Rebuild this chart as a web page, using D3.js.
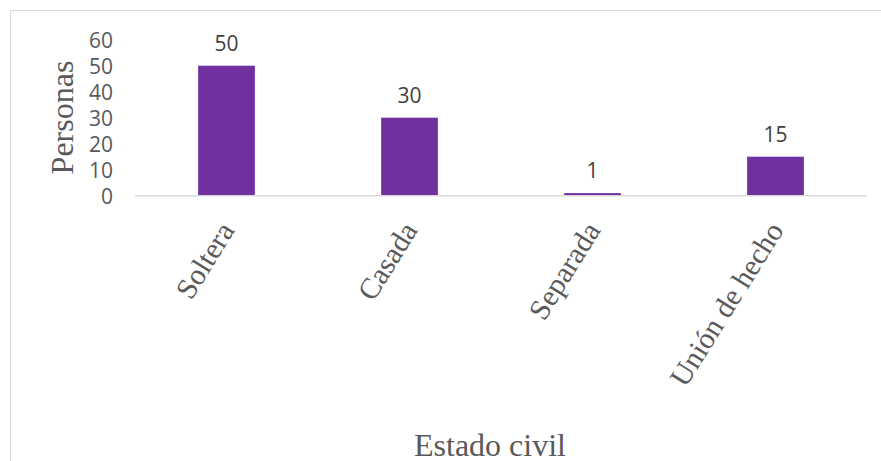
<!DOCTYPE html>
<html><head><meta charset="utf-8">
<script src="https://cdn.jsdelivr.net/npm/d3@7"></script>
<style>body{margin:0;background:#fff}svg{display:block}</style>
</head><body>
<svg id="c" width="881" height="461"></svg>
<script>
const categories = ["Soltera", "Casada", "Separada", "Unión de hecho"];
const values = [50, 30, 1, 15];
const yTicks = [0, 10, 20, 30, 40, 50, 60];
const yTitle = "Personas";
const xTitle = "Estado civil";

const svg = d3.select("#c");
// chart border
svg.append("rect").attr("x", 10.5).attr("y", 10.5).attr("width", 900).attr("height", 500)
  .attr("fill", "#fff").attr("stroke", "#d9d9d9").attr("stroke-width", 1);

const x = d3.scaleBand().domain(categories).range([135, 867]).paddingInner(0.69).paddingOuter(0.345);
const y = d3.scaleLinear().domain([0, 60]).range([195.7, 39.7]);

// bars
svg.selectAll("rect.bar").data(values).enter().append("rect")
  .attr("class", "bar")
  .attr("x", (d, i) => x(categories[i]))
  .attr("width", x.bandwidth())
  .attr("y", d => y(d))
  .attr("height", d => y(0) - y(d))
  .attr("fill", "#7030A0");

// x axis line
svg.append("line").attr("x1", 135).attr("x2", 867).attr("y1", y(0)).attr("y2", y(0))
  .attr("stroke", "#d9d9d9").attr("stroke-width", 1.5);

// y axis tick labels
const yAxis = d3.axisLeft(y).tickValues(yTicks).tickSize(0).tickPadding(0);
const gy = svg.append("g").attr("transform", "translate(113,0)").call(yAxis);
gy.select(".domain").remove();
gy.selectAll("text").attr("font-family", "'Open Sans', sans-serif").attr("font-size", 21)
  .attr("fill", "#595959").attr("dy", "0.36em");

// value labels
svg.selectAll("text.val").data(values).enter().append("text")
  .attr("class", "val")
  .attr("x", (d, i) => x(categories[i]) + x.bandwidth() / 2)
  .attr("y", d => y(d) - 15)
  .attr("text-anchor", "middle")
  .attr("font-family", "'Open Sans', sans-serif").attr("font-size", 21)
  .attr("fill", "#404040")
  .text(d => d);

// category labels
svg.selectAll("text.cat").data(categories).enter().append("text")
  .attr("class", "cat")
  .attr("transform", d => `translate(${x(d) + x.bandwidth() / 2 + 9},${y(0) + 34.5}) rotate(-58)`)
  .attr("text-anchor", "end")
  .attr("font-family", "'Liberation Serif', 'Times New Roman', serif").attr("font-size", 29.5)
  .attr("fill", "#595959")
  .text(d => d);

// axis titles
svg.append("text")
  .attr("transform", "translate(73,117.5) rotate(-90)")
  .attr("text-anchor", "middle")
  .attr("font-family", "'Liberation Serif', 'Times New Roman', serif").attr("font-size", 32)
  .attr("fill", "#595959").text(yTitle);

svg.append("text")
  .attr("x", 490).attr("y", 456)
  .attr("text-anchor", "middle")
  .attr("font-family", "'Liberation Serif', 'Times New Roman', serif").attr("font-size", 32)
  .attr("fill", "#595959").text(xTitle);
</script>
</body></html>
